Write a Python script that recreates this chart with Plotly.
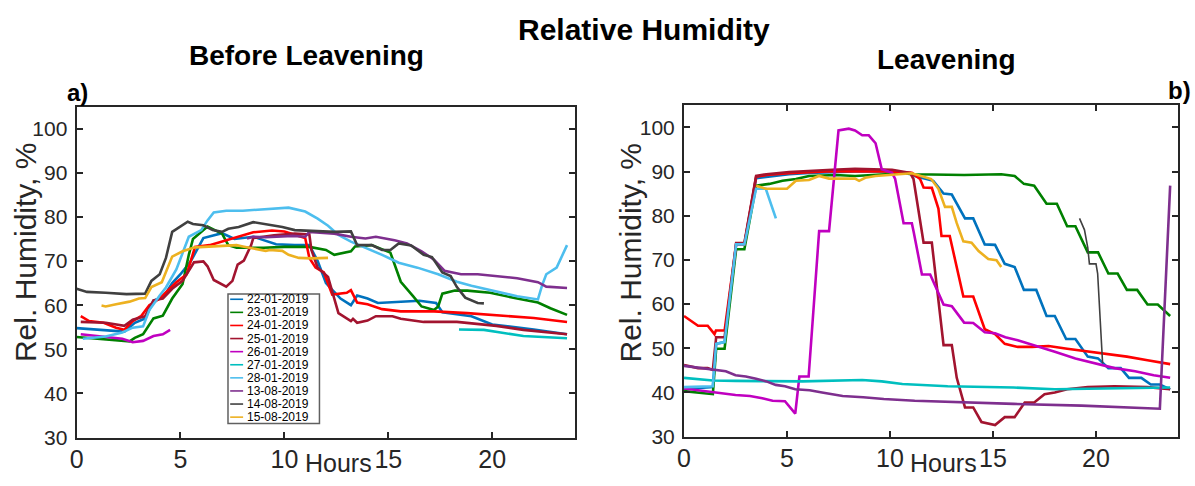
import plotly.graph_objects as go

# ---------------- series labels and colours ----------------
series_names = ["22-01-2019", "23-01-2019", "24-01-2019", "25-01-2019", "26-01-2019",
                "27-01-2019", "28-01-2019", "13-08-2019", "14-08-2019", "15-08-2019"]
series_colors = ["#0072BD", "#008000", "#FF0000", "#A2142F", "#C000C0",
                 "#00BFBF", "#4DBEEE", "#7E2F8E", "#404040", "#EDB120"]

x_ticks = [0, 5, 10, 15, 20]
y_ticks = [30, 40, 50, 60, 70, 80, 90, 100]

# ---------------- a) before leavening: hours / relative humidity (%) ----------------
h_a_2201 = [0, 1.0, 2.3, 2.8, 3.3, 3.7, 4.2, 4.6, 5.0, 5.5, 6.1, 7.0, 7.6, 8.5, 9.6, 10.5, 11.2, 11.6, 12.0,
            12.7, 13.2, 13.5, 14.0, 14.5, 15.5, 16.5, 17.3, 17.6, 19.0, 20.0, 22.0, 23.6]
rh_a_2201 = [54.8, 54.5, 54.0, 56.0, 57.0, 61.0, 62.0, 65.0, 67.0, 70.0, 75.2, 76.3, 75.0, 75.5, 73.8, 73.6,
             73.6, 70.0, 65.0, 61.5, 60.0, 62.2, 61.5, 60.5, 60.7, 61.0, 60.5, 58.4, 57.5, 55.6, 54.5, 53.4]

h_a_2301 = [0, 1.5, 2.55, 2.8, 3.2, 3.7, 4.15, 4.6, 5.1, 5.4, 5.6, 6.3, 6.5, 7.0, 7.3, 7.7, 9.0, 10.0, 11.2,
            12.0, 12.4, 13.2, 13.4, 14.2, 15.1, 15.6, 16.2, 16.6, 17.2, 17.4, 17.6, 18.2, 18.8, 19.9, 21.2,
            22.2, 22.8, 23.6]
rh_a_2301 = [52.8, 52.3, 51.8, 52.6, 53.4, 57.0, 57.6, 61.5, 64.8, 71.4, 75.0, 77.8, 77.3, 76.2, 73.6, 73.0,
             73.0, 73.2, 73.2, 72.5, 71.4, 72.2, 73.3, 73.6, 71.9, 65.3, 62.0, 59.7, 58.9, 59.7, 62.6, 63.3,
             63.3, 62.8, 61.5, 60.6, 59.3, 57.8]

h_a_2401 = [0.2, 0.6, 1.3, 1.9, 2.3, 2.7, 3.1, 3.5, 4.0, 4.5, 4.8, 5.3, 5.6, 5.7, 6.4, 7.2, 7.8, 8.5, 9.4,
            10.0, 11.0, 11.2, 11.5, 11.9, 12.3, 13.0, 13.2, 13.5, 14.0, 14.7, 15.6, 17.2, 18.8, 20.4, 22.0, 23.6]
rh_a_2401 = [57.5, 56.4, 56.0, 54.9, 54.4, 56.4, 57.5, 60.0, 61.5, 63.7, 65.2, 67.0, 72.0, 73.2, 73.6, 74.7,
             75.4, 76.5, 76.9, 76.7, 75.2, 70.7, 68.5, 67.4, 62.4, 62.8, 63.4, 60.6, 60.2, 59.1, 58.6, 58.6,
             58.2, 57.7, 57.1, 56.2]

h_a_2501 = [0.2, 1.4, 2.3, 2.7, 3.3, 3.7, 4.15, 4.6, 5.1, 5.5, 5.65, 6.1, 6.3, 6.6, 7.2, 7.5, 7.75, 8.05,
            8.4, 8.5, 9.5, 10.5, 11.2, 11.3, 11.6, 12.1, 12.6, 13.2, 13.3, 13.5, 14.0, 14.4, 15.2, 15.6, 16.7,
            18.3, 19.1, 20.2, 21.5, 23.6]
rh_a_2501 = [56.2, 56.0, 55.3, 56.7, 57.5, 61.1, 61.5, 63.7, 65.5, 68.8, 69.7, 69.9, 68.8, 65.7, 64.2, 65.5,
             69.2, 70.1, 73.6, 75.2, 75.8, 76.2, 76.0, 72.5, 68.5, 66.4, 58.2, 56.4, 56.9, 56.0, 56.5, 57.5,
             57.5, 56.9, 56.2, 56.2, 55.8, 55.3, 54.4, 53.4]

h_a_2601 = [0.2, 1.4, 2.2, 2.7, 3.2, 3.7, 4.15, 4.5]
rh_a_2601 = [53.4, 52.9, 52.4, 51.6, 51.9, 53.0, 53.4, 54.4]

h_a_2701 = [18.4, 19.6, 20.4, 21.5, 23.6]
rh_a_2701 = [54.5, 54.4, 53.8, 53.0, 52.5]

h_a_2801 = [0.3, 1.4, 2.2, 2.7, 3.2, 3.5, 4.0, 4.3, 4.8, 5.2, 5.4, 6.0, 6.3, 6.6, 7.2, 8.0, 9.1, 10.2, 11.0,
            11.6, 12.1, 12.6, 13.2, 13.9, 14.7, 15.5, 16.4, 17.4, 18.3, 19.0, 20.2, 21.2, 22.2, 22.4, 22.6,
            23.1, 23.6]
rh_a_2801 = [52.4, 52.9, 53.8, 54.9, 55.2, 58.9, 62.2, 64.0, 68.1, 73.0, 75.5, 77.0, 79.2, 81.0, 81.4, 81.4,
             81.7, 82.1, 81.2, 79.6, 78.0, 75.9, 74.4, 73.0, 71.4, 69.6, 68.5, 67.0, 65.3, 64.4, 63.0, 62.0,
             61.3, 64.5, 67.0, 68.5, 73.6]

h_a_1308 = [8.2, 8.5, 9.1, 9.9, 10.4, 11.0, 11.2, 12.4, 13.2, 13.9, 14.4, 15.3, 15.9, 16.6, 17.2, 17.7, 18.5,
            19.3, 20.2, 21.2, 22.2, 22.6, 23.6]
rh_a_1308 = [75.1, 75.5, 75.4, 75.5, 75.7, 75.5, 76.6, 76.2, 75.5, 75.1, 75.5, 74.7, 74.0, 72.2, 70.3, 67.8,
             67.0, 67.0, 66.6, 66.1, 65.2, 64.2, 63.9]

h_a_1408 = [0, 0.5, 1.4, 2.4, 3.3, 3.6, 4.0, 4.3, 4.6, 4.95, 5.35, 5.6, 6.1, 6.55, 7.0, 7.3, 7.8, 8.5, 9.1,
            9.9, 10.5, 11.3, 12.4, 13.2, 13.5, 14.2, 14.7, 15.1, 15.5, 16.1, 16.7, 17.1, 17.6, 18.0, 18.3,
            18.7, 19.3, 19.6]
rh_a_1408 = [63.7, 63.0, 62.8, 62.5, 62.6, 65.5, 67.0, 70.7, 76.6, 77.7, 78.9, 78.4, 78.1, 77.0, 76.6, 77.3,
             77.7, 78.8, 78.4, 77.7, 77.0, 76.8, 76.6, 76.7, 73.6, 73.6, 72.5, 72.5, 74.0, 73.5, 71.4, 70.9,
             67.4, 66.6, 64.1, 61.7, 60.5, 60.4]

h_a_1508 = [1.2, 1.4, 1.9, 2.55, 3.0, 3.3, 3.6, 4.1, 4.6, 5.1, 5.7, 6.55, 7.7, 8.0, 8.6, 9.1, 9.3, 9.9, 10.2,
            10.7, 11.3, 12.1]
rh_a_1508 = [59.9, 59.7, 60.2, 60.8, 61.5, 61.6, 64.1, 65.2, 71.0, 72.2, 73.1, 73.3, 73.6, 73.3, 72.8, 72.3,
             72.5, 72.3, 71.4, 70.7, 70.6, 70.7]

# ---------------- b) leavening: hours / relative humidity (%) ----------------
h_b_2201 = [0, 1.4, 1.56, 1.97, 2.53, 2.93, 3.5, 4.0, 5.1, 6.07, 7.04, 8.3, 9.9, 11.06, 11.2, 11.87, 12.1,
            12.6, 13.0, 13.64, 14.04, 14.6, 15.1, 15.57, 16.05, 16.5, 17.1, 17.6, 18.0, 18.55, 19.0, 19.6,
            20.1, 20.6, 21.2, 21.6, 22.2, 22.66, 23.1, 23.6]
rh_b_2201 = [40.8, 41.2, 51.0, 51.4, 73.5, 73.5, 88.5, 88.8, 89.4, 89.7, 89.9, 90.0, 90.0, 89.4, 89.0, 88.3,
             87.9, 85.0, 84.8, 79.4, 79.4, 73.5, 73.4, 69.1, 68.4, 63.2, 63.2, 57.3, 57.3, 52.1, 52.1, 48.1,
             47.7, 45.5, 45.5, 43.3, 43.3, 41.8, 41.8, 40.7]

h_b_2301 = [0, 1.4, 1.56, 1.97, 2.53, 2.93, 3.5, 4.14, 4.78, 5.43, 6.07, 7.36, 8.3, 9.3, 10.6, 11.2, 13.6,
            15.4, 16.05, 16.5, 17.0, 17.6, 18.1, 18.6, 19.0, 19.6, 20.1, 20.6, 21.05, 21.5, 22.0, 22.5, 23.0,
            23.6]
rh_b_2301 = [40.3, 39.6, 49.9, 49.9, 72.4, 72.4, 86.8, 87.2, 87.9, 88.3, 89.0, 89.2, 89.0, 89.2, 89.6, 89.4,
             89.2, 89.4, 89.0, 87.2, 86.8, 82.7, 82.7, 77.6, 77.6, 71.7, 71.7, 66.9, 66.9, 63.2, 63.2, 59.9,
             59.9, 57.3]

h_b_2401 = [0, 0.68, 1.15, 1.48, 1.55, 1.97, 2.53, 2.93, 3.5, 4.0, 5.1, 6.07, 7.2, 9.9, 11.06, 11.46, 11.63,
            12.03, 12.35, 12.5, 12.9, 13.56, 14.04, 14.6, 15.1, 15.57, 16.2, 16.9, 17.7, 18.6, 19.6, 20.6,
            21.5, 22.5, 23.6]
rh_b_2401 = [57.3, 55.1, 55.1, 53.2, 54.0, 54.0, 73.5, 73.5, 88.8, 89.2, 89.6, 89.9, 90.1, 90.0, 89.7, 88.3,
             86.4, 86.3, 81.6, 75.4, 75.4, 61.7, 61.7, 54.3, 53.2, 51.0, 50.3, 50.3, 50.5, 49.9, 49.3, 48.8,
             48.1, 47.3, 46.4]

h_b_2501 = [0, 0.68, 1.15, 1.4, 1.56, 1.97, 2.53, 2.93, 3.5, 4.0, 5.1, 6.07, 7.2, 8.3, 10.1, 10.98, 11.14,
            11.63, 12.03, 12.6, 13.0, 13.24, 13.64, 14.04, 14.44, 15.1, 15.57, 16.05, 16.54, 17.0, 17.5, 18.0,
            18.6, 19.6, 20.9, 22.5, 23.6]
rh_b_2501 = [46.2, 45.5, 45.5, 45.1, 52.5, 52.5, 73.8, 73.8, 89.0, 89.4, 89.9, 90.2, 90.4, 90.6, 90.4, 89.7,
             88.3, 73.9, 73.9, 50.7, 50.7, 43.3, 36.6, 36.6, 33.3, 32.6, 34.4, 34.4, 37.7, 37.7, 39.6, 40.0,
             40.7, 41.2, 41.4, 41.2, 40.7]

h_b_2601 = [0, 1.4, 2.5, 3.2, 3.8, 4.3, 4.9, 5.4, 5.6, 6.05, 6.56, 7.04, 7.5, 8.0, 8.3, 8.65, 8.97, 9.3, 9.6,
            10.1, 10.25, 10.66, 11.06, 11.15, 11.55, 11.95, 12.6, 13.0, 13.6, 14.04, 14.6, 15.1, 15.6, 16.2,
            17.0, 18.0, 19.0, 19.9, 20.9, 21.9, 22.8, 23.6]
rh_b_2601 = [40.9, 40.0, 39.4, 39.2, 38.7, 38.1, 38.0, 35.2, 43.6, 43.6, 76.5, 76.5, 99.3, 99.7, 99.3, 98.2,
             98.2, 96.4, 90.5, 89.7, 88.3, 78.3, 78.3, 76.3, 66.7, 66.7, 59.9, 59.5, 55.8, 55.7, 53.6, 53.4,
             52.5, 51.8, 50.7, 49.2, 47.7, 46.6, 45.5, 44.8, 43.9, 43.3]

h_b_2701 = [0, 1.4, 2.5, 5.75, 8.65, 9.6, 10.6, 12.8, 16.0, 18.0, 23.6]
rh_b_2701 = [43.3, 42.7, 42.6, 42.5, 42.8, 42.5, 41.9, 41.4, 41.1, 40.7, 41.1]

h_b_2801 = [0, 1.4, 1.56, 1.97, 2.53, 2.93, 3.5, 3.97, 4.46]
rh_b_2801 = [41.2, 41.4, 51.0, 51.4, 73.5, 73.5, 86.1, 86.1, 79.4]

h_b_1308 = [0, 1.4, 2.03, 2.5, 3.0, 3.5, 4.0, 4.45, 4.9, 5.4, 6.1, 6.7, 7.7, 8.7, 9.7, 11.2, 13.6, 16.0,
            19.3, 23.1, 23.6]
rh_b_1308 = [46.0, 45.2, 44.8, 43.9, 43.6, 43.1, 42.5, 41.7, 41.4, 40.7, 40.5, 40.0, 39.2, 38.9, 38.5, 38.1,
             37.7, 37.4, 37.0, 36.3, 86.8]

h_b_1408 = [19.2, 19.44, 19.6, 19.68, 20.0, 20.08, 20.32]
rh_b_1408 = [79.4, 76.8, 72.8, 69.1, 69.1, 66.9, 46.6]

h_b_1508 = [3.5, 3.97, 5.0, 5.43, 6.07, 6.55, 7.04, 8.3, 8.5, 8.8, 9.3, 9.9, 11.06, 12.0, 12.35, 12.67, 13.0,
            13.24, 13.56, 13.96, 14.3, 14.77, 15.17, 15.4]
rh_b_1508 = [86.8, 86.1, 86.1, 87.9, 88.1, 89.0, 88.4, 88.4, 87.9, 88.6, 89.0, 89.2, 89.6, 88.3, 86.1, 82.0,
             82.0, 78.3, 74.2, 73.9, 72.0, 70.2, 69.9, 68.4]

panel_a = [(h_a_2201, rh_a_2201), (h_a_2301, rh_a_2301), (h_a_2401, rh_a_2401), (h_a_2501, rh_a_2501),
           (h_a_2601, rh_a_2601), (h_a_2701, rh_a_2701), (h_a_2801, rh_a_2801), (h_a_1308, rh_a_1308),
           (h_a_1408, rh_a_1408), (h_a_1508, rh_a_1508)]
panel_b = [(h_b_2201, rh_b_2201), (h_b_2301, rh_b_2301), (h_b_2401, rh_b_2401), (h_b_2501, rh_b_2501),
           (h_b_2601, rh_b_2601), (h_b_2701, rh_b_2701), (h_b_2801, rh_b_2801), (h_b_1308, rh_b_1308),
           (h_b_1408, rh_b_1408), (h_b_1508, rh_b_1508)]

W, H = 1195, 486
AX = "#262626"
SANS = "Liberation Sans, Arial, Helvetica, sans-serif"

fig = go.Figure()
for i, (hx, hy) in enumerate(panel_a):
    fig.add_trace(go.Scatter(x=hx, y=hy, mode="lines", name=series_names[i], showlegend=False,
                             line=dict(color=series_colors[i], width=2.6), xaxis="x", yaxis="y"))
for i, (hx, hy) in enumerate(panel_b):
    w = 1.6 if series_names[i] == "14-08-2019" else 2.6
    fig.add_trace(go.Scatter(x=hx, y=hy, mode="lines", name=series_names[i], showlegend=False,
                             line=dict(color=series_colors[i], width=w), xaxis="x2", yaxis="y2"))


def px_x(p):
    return p / W


def px_y(p):
    return 1 - p / H


common_x = dict(range=[0, 24], tickvals=x_ticks, ticks="inside", ticklen=6, tickwidth=2, tickcolor=AX,
                showline=True, linewidth=2, linecolor=AX, showgrid=False, zeroline=False,
                tickfont=dict(family=SANS, size=25, color=AX), ticklabelstandoff=-2)
common_y = dict(range=[30, 105], tickvals=y_ticks, ticks="inside", ticklen=6, tickwidth=2, tickcolor=AX,
                showline=True, linewidth=2, linecolor=AX, showgrid=False, zeroline=False,
                mirror="allticks", tickfont=dict(family=SANS, size=21, color=AX), ticklabelstandoff=3)

fig.update_layout(
    width=W, height=H, margin=dict(l=0, r=0, t=0, b=0),
    paper_bgcolor="white", plot_bgcolor="white",
    xaxis=dict(domain=[px_x(70), px_x(571.7)], anchor="y", mirror=True, **common_x),
    yaxis=dict(domain=[px_y(447.7), px_y(109)], anchor="x", **common_y),
    xaxis2=dict(domain=[px_x(681), px_x(1178.3)], anchor="y2", mirror="allticks", **common_x),
    yaxis2=dict(domain=[px_y(446.7), px_y(107.7)], anchor="x2", **common_y),
)

annotations = []


def text(t, x, y, size, family=SANS, bold=False, angle=0, xanchor="center", color="black"):
    annotations.append(dict(text=("<b>%s</b>" % t) if bold else t, x=px_x(x), y=px_y(y), xref="paper",
                            yref="paper", xanchor=xanchor, yanchor="middle", showarrow=False,
                            textangle=angle, font=dict(family=family, size=size, color=color)))


text("Relative Humidity", 641, 30, 30, bold=True)
text("Before Leavening", 301, 57, 28, bold=True)
text("Leavening", 945, 61, 28, bold=True)
text("a)", 71, 95, 24, bold=True)
text("b)", 1179, 93, 24, bold=True)
text("Hours", 333, 474, 25, color=AX)
text("Hours", 942, 474, 25, color=AX)
text("Rel. Humidity, %", 18, 258, 30, angle=-90, color=AX)
text("Rel. Humidity, %", 627, 258, 30, angle=-90, color=AX)

# compact legend box inside panel a)
row0, row_step = 306.2, 13.4
shapes = [dict(type="rect", xref="paper", yref="paper", x0=px_x(222.3), x1=px_x(314.3),
               y0=px_y(row0 + 9 * row_step + 6.5), y1=px_y(row0 - 5.5), line=dict(color="#606060", width=1.5),
               fillcolor="white", layer="above")]
for i, name in enumerate(series_names):
    yy = row0 + i * row_step
    shapes.append(dict(type="line", xref="paper", yref="paper", x0=px_x(224.5), x1=px_x(237.5),
                       y0=px_y(yy), y1=px_y(yy), line=dict(color=series_colors[i], width=1.6),
                       layer="above"))
    text(name, 239, yy, 12, xanchor="left")

fig.update_layout(annotations=annotations, shapes=shapes)
fig.write_html("out.html")
